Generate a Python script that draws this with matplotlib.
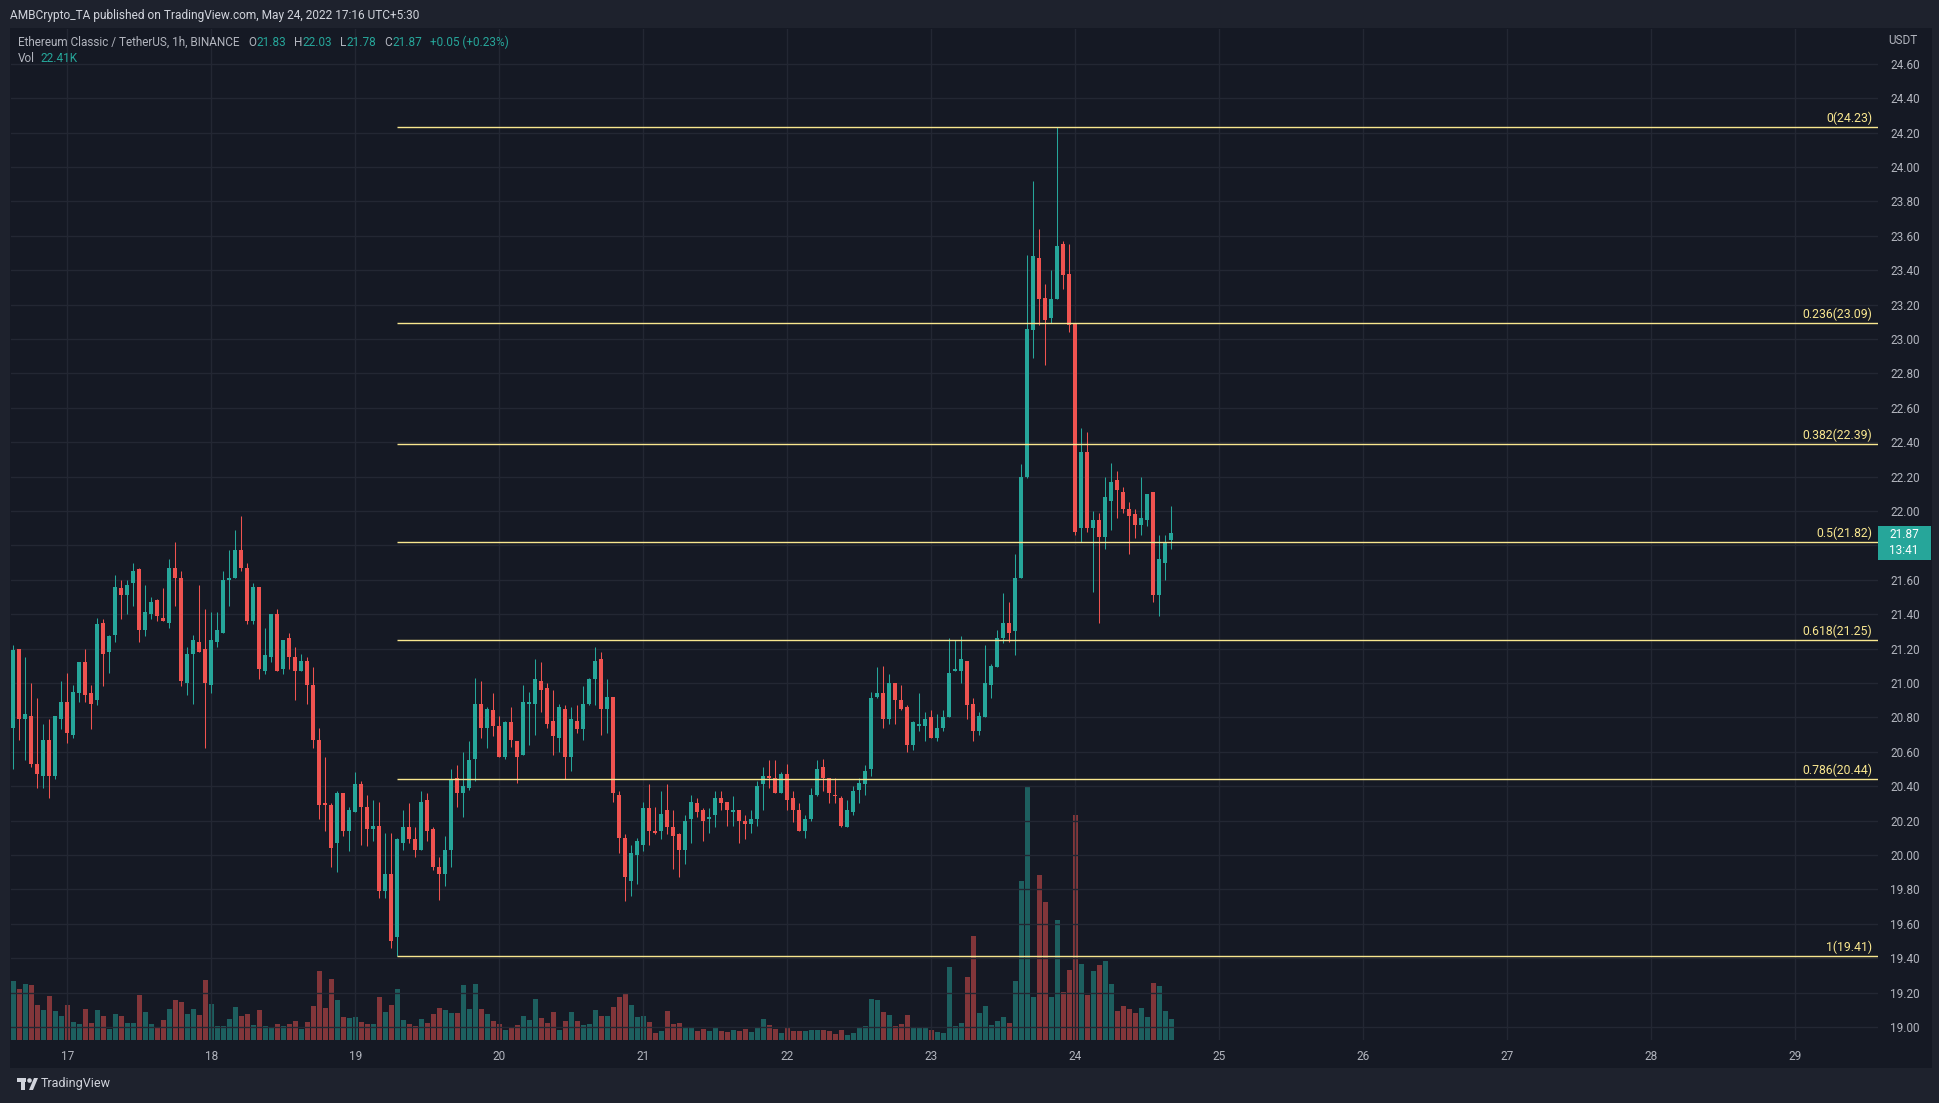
import matplotlib
matplotlib.use('Agg')
import matplotlib.pyplot as plt
from matplotlib.patches import Rectangle, Polygon, Circle
from matplotlib.transforms import Affine2D, offset_copy
import numpy as np

W, H = 1940, 1103

# ETC/USDT 1h candles, 16th 15:00 -> 24th 16:00 (UTC+5:30)
opens = [20.74, 21.20, 20.79, 20.81, 20.53, 20.46, 20.67, 20.46, 20.79, 20.89,
         20.70, 20.94, 21.12, 20.94, 20.90, 21.35, 21.18, 21.28, 21.55, 21.51,
         21.58, 21.66, 21.31, 21.40, 21.48, 21.38, 21.35, 21.67, 21.61, 21.00,
         21.17, 21.24, 21.20, 20.99, 21.24, 21.29, 21.60, 21.61, 21.77, 21.67,
         21.36, 21.56, 21.07, 21.15, 21.40, 21.08, 21.26, 21.15, 21.07, 21.13,
         20.99, 20.67, 20.30, 20.29, 20.07, 20.36, 20.14, 20.25, 20.41, 20.28,
         20.15, 20.17, 19.79, 19.89, 19.52, 20.07, 20.16, 20.09, 20.03, 20.32,
         20.15, 19.93, 19.89, 20.03, 20.45, 20.36, 20.39, 20.56, 20.88, 20.74,
         20.84, 20.75, 20.57, 20.77, 20.66, 20.58, 20.88, 20.88, 21.01, 20.97,
         20.78, 20.68, 20.85, 20.57, 20.78, 20.73, 20.88, 21.02, 21.14, 20.85,
         20.92, 20.35, 20.10, 19.85, 20.00, 20.06, 20.27, 20.14, 20.14, 20.26,
         20.16, 20.12, 20.03, 20.21, 20.30, 20.26, 20.21, 20.23, 20.33, 20.31,
         20.25, 20.26, 20.20, 20.18, 20.21, 20.41, 20.46, 20.45, 20.36, 20.47,
         20.33, 20.26, 20.14, 20.21, 20.35, 20.51, 20.45, 20.35, 20.33, 20.16,
         20.25, 20.38, 20.41, 20.50, 20.92, 20.94, 20.79, 21.00, 20.90, 20.86,
         20.64, 20.75, 20.75, 20.80, 20.68, 20.74, 20.80, 21.07, 21.07, 21.13,
         20.88, 20.72, 20.80, 20.99, 21.09, 21.26, 21.35, 21.30, 21.61, 22.20,
         23.05, 23.47, 23.24, 23.12, 23.23, 23.55, 23.38, 23.09, 21.90, 22.34,
         21.90, 21.95, 21.85, 22.06, 22.18, 22.11, 22.01, 21.98, 21.92, 21.95,
         22.11, 21.51, 21.70, 21.83]
highs = [21.22, 21.20, 21.15, 21.00, 20.91, 20.76, 20.79, 20.81, 21.01, 21.06,
         20.99, 21.12, 21.20, 20.99, 21.38, 21.37, 21.28, 21.63, 21.60, 21.60,
         21.70, 21.67, 21.57, 21.50, 21.49, 21.55, 21.72, 21.82, 21.65, 21.21,
         21.28, 21.57, 21.43, 21.41, 21.41, 21.65, 21.77, 21.89, 21.97, 21.70,
         21.58, 21.56, 21.32, 21.40, 21.43, 21.25, 21.29, 21.21, 21.17, 21.15,
         21.09, 20.74, 20.57, 20.30, 20.37, 20.36, 20.28, 20.48, 20.43, 20.35,
         20.32, 20.31, 20.13, 20.13, 20.10, 20.26, 20.30, 20.16, 20.37, 20.36,
         20.16, 19.99, 20.11, 20.50, 20.52, 20.60, 20.66, 21.03, 21.01, 20.86,
         20.94, 20.81, 20.78, 20.86, 20.66, 20.99, 20.95, 21.14, 21.12, 21.00,
         20.96, 20.88, 20.87, 20.86, 20.87, 20.98, 21.03, 21.21, 21.18, 21.02,
         20.92, 20.37, 20.12, 20.06, 20.10, 20.31, 20.41, 20.28, 20.37, 20.41,
         20.26, 20.13, 20.23, 20.35, 20.33, 20.27, 20.27, 20.37, 20.37, 20.31,
         20.34, 20.26, 20.23, 20.26, 20.43, 20.51, 20.55, 20.55, 20.48, 20.53,
         20.37, 20.30, 20.23, 20.39, 20.55, 20.56, 20.45, 20.45, 20.34, 20.32,
         20.40, 20.45, 20.52, 20.95, 21.09, 21.10, 21.05, 21.00, 20.99, 20.87,
         20.78, 20.94, 20.83, 20.84, 20.82, 20.84, 21.26, 21.25, 21.27, 21.13,
         20.91, 20.83, 21.22, 21.11, 21.31, 21.52, 21.47, 21.75, 22.27, 23.49,
         23.92, 23.64, 23.32, 23.40, 24.23, 23.57, 23.55, 23.09, 22.48, 22.46,
         22.00, 21.99, 22.20, 22.28, 22.23, 22.14, 22.05, 22.01, 22.20, 22.10,
         22.11, 21.86, 21.86, 22.03]
lows = [20.50, 20.67, 20.55, 20.51, 20.39, 20.39, 20.33, 20.44, 20.73, 20.65,
        20.68, 20.89, 20.89, 20.73, 20.87, 20.98, 21.06, 21.24, 21.37, 21.40,
        21.45, 21.24, 21.27, 21.37, 21.36, 21.36, 21.32, 21.45, 20.98, 20.93,
        20.88, 21.18, 20.62, 20.94, 21.21, 21.29, 21.45, 21.61, 21.65, 21.34,
        21.34, 21.02, 21.05, 21.12, 21.07, 21.05, 21.08, 20.90, 21.07, 20.88,
        20.62, 20.21, 20.14, 19.93, 19.90, 20.11, 20.02, 20.25, 20.06, 20.05,
        20.08, 19.75, 19.75, 19.46, 19.41, 20.03, 20.07, 19.99, 20.03, 20.08,
        19.91, 19.74, 19.82, 19.93, 20.28, 20.22, 20.38, 20.43, 20.68, 20.62,
        20.69, 20.57, 20.56, 20.63, 20.42, 20.58, 20.64, 20.70, 20.83, 20.74,
        20.58, 20.60, 20.44, 20.49, 20.71, 20.67, 20.87, 20.87, 20.70, 20.71,
        20.31, 20.01, 19.73, 19.76, 19.83, 20.02, 20.06, 20.12, 20.09, 20.12,
        19.92, 19.87, 19.95, 20.07, 20.22, 20.08, 20.13, 20.16, 20.26, 20.17,
        20.17, 20.07, 20.09, 20.13, 20.17, 20.26, 20.39, 20.36, 20.36, 20.26,
        20.19, 20.14, 20.10, 20.20, 20.34, 20.37, 20.30, 20.30, 20.16, 20.16,
        20.23, 20.30, 20.35, 20.46, 20.91, 20.74, 20.76, 20.76, 20.84, 20.60,
        20.61, 20.72, 20.66, 20.68, 20.66, 20.72, 20.80, 21.07, 21.00, 20.79,
        20.66, 20.70, 20.80, 20.91, 21.09, 21.23, 21.24, 21.16, 21.61, 22.19,
        22.89, 23.08, 22.85, 23.09, 23.23, 23.29, 23.04, 21.86, 21.82, 21.88,
        21.53, 21.35, 21.78, 21.89, 21.96, 21.99, 21.75, 21.84, 21.86, 21.91,
        21.47, 21.39, 21.60, 21.78]
closes = [21.19, 20.79, 20.82, 20.53, 20.47, 20.67, 20.46, 20.81, 20.89, 20.71,
          20.95, 21.12, 20.93, 20.88, 21.34, 21.17, 21.27, 21.56, 21.51, 21.57,
          21.65, 21.31, 21.41, 21.47, 21.39, 21.36, 21.67, 21.61, 21.01, 21.17,
          21.25, 21.18, 21.00, 21.25, 21.31, 21.60, 21.61, 21.77, 21.67, 21.36,
          21.56, 21.08, 21.16, 21.40, 21.07, 21.25, 21.15, 21.07, 21.13, 20.99,
          20.67, 20.29, 20.29, 20.04, 20.36, 20.14, 20.26, 20.41, 20.28, 20.15,
          20.17, 19.79, 19.89, 19.50, 20.09, 20.16, 20.09, 20.03, 20.31, 20.14,
          19.93, 19.89, 20.03, 20.44, 20.36, 20.40, 20.55, 20.88, 20.74, 20.85,
          20.75, 20.57, 20.77, 20.67, 20.57, 20.89, 20.89, 21.02, 20.96, 20.76,
          20.69, 20.86, 20.57, 20.79, 20.73, 20.88, 21.02, 21.13, 20.85, 20.92,
          20.36, 20.10, 19.87, 20.01, 20.08, 20.27, 20.14, 20.13, 20.24, 20.16,
          20.11, 20.03, 20.20, 20.31, 20.25, 20.20, 20.22, 20.33, 20.30, 20.26,
          20.26, 20.20, 20.18, 20.21, 20.40, 20.46, 20.45, 20.36, 20.47, 20.32,
          20.26, 20.14, 20.21, 20.35, 20.50, 20.45, 20.36, 20.34, 20.17, 20.26,
          20.37, 20.42, 20.49, 20.91, 20.94, 20.79, 21.00, 20.90, 20.85, 20.64,
          20.77, 20.76, 20.79, 20.68, 20.74, 20.80, 21.06, 21.08, 21.14, 20.87,
          20.72, 20.81, 21.00, 21.10, 21.26, 21.35, 21.29, 21.61, 22.20, 23.06,
          23.48, 23.23, 23.11, 23.23, 23.54, 23.37, 23.08, 21.88, 22.34, 21.90,
          21.95, 21.85, 22.08, 22.17, 22.12, 22.01, 21.97, 21.92, 21.96, 22.10,
          21.51, 21.72, 21.82, 21.87]
# volume in thousands
volumes = [63.9, 55.3, 60.7, 59.6, 37.9, 32.5, 47.7, 31.4, 26.0, 37.9,
           19.5, 17.4, 33.6, 18.5, 32.5, 26.0, 12.0, 28.2, 26.0, 18.5,
           18.5, 48.8, 30.4, 17.4, 13.0, 21.7, 33.6, 43.4, 41.2, 28.2,
           33.6, 27.1, 65.0, 39.0, 15.2, 15.2, 22.8, 35.8, 26.0, 28.2,
           16.3, 32.5, 15.2, 14.1, 17.4, 15.2, 17.4, 20.6, 12.0, 19.5,
           36.9, 74.8, 34.7, 66.1, 43.4, 24.9, 23.9, 24.9, 19.5, 17.4,
           17.4, 46.6, 30.4, 37.9, 55.3, 21.7, 17.4, 15.2, 22.8, 18.5,
           28.2, 34.7, 32.5, 29.3, 29.3, 59.6, 33.6, 60.7, 33.6, 28.2,
           20.6, 17.4, 10.9, 14.1, 16.3, 26.0, 21.7, 44.4, 23.9, 18.5,
           30.4, 10.9, 20.6, 30.4, 20.6, 16.3, 17.4, 32.5, 26.0, 26.0,
           35.8, 46.6, 50.9, 37.9, 24.9, 26.0, 19.5, 7.6, 9.8, 31.4,
           17.4, 18.5, 13.0, 13.0, 9.8, 12.0, 9.8, 13.0, 9.8, 8.7,
           10.9, 9.8, 12.0, 8.7, 13.0, 22.8, 16.3, 12.0, 7.6, 13.0,
           9.8, 9.8, 9.8, 10.9, 10.9, 10.9, 9.8, 6.5, 10.9, 5.4,
           7.6, 13.0, 15.2, 44.4, 43.4, 30.4, 27.1, 15.2, 17.4, 27.1,
           14.1, 14.1, 13.0, 10.9, 8.7, 7.6, 79.0, 15.2, 18.5, 68.3,
           112.7, 29.3, 36.9, 16.3, 20.6, 24.9, 18.5, 63.9, 172.0, 275.0,
           46.6, 179.0, 150.0, 46.6, 130.0, 52.0, 75.8, 244.0, 82.3, 48.8,
           74.8, 81.3, 85.5, 60.7, 31.4, 36.9, 33.6, 29.3, 34.7, 24.9,
           61.8, 58.5, 31.4, 22.41]

day_labels = ['17', '18', '19', '20', '21', '22', '23', '24', '25', '26', '27', '28', '29']
first_midnight = 9  # candle index of 17th 00:00

fib_ratios = ['0', '0.236', '0.382', '0.5', '0.618', '0.786', '1']
fib_prices = [24.23, 23.09, 22.39, 21.82, 21.25, 20.44, 19.41]
fib_start = 64  # swing low candle

price_ticks = np.round(np.arange(19.0, 24.61, 0.2), 2)
last_price = 21.87

frame = '#1e222d'
bg = '#151924'
grid_c = '#232733'
txt = '#b2b5be'
title_c = '#d1d4dc'
up = '#26a69a'
down = '#ef5350'
fib_c = '#f9e78f'
font = 'Roboto'

plt.rcParams['font.family'] = [font, 'DejaVu Sans']

fig = plt.figure(figsize=(W / 100, H / 100), dpi=100, facecolor=frame)
px = Affine2D().scale(1 / W, -1 / H).translate(0, 1) + fig.transFigure

fig.add_artist(Rectangle((10, 28), 1922, 1040, transform=px, facecolor=bg,
                         edgecolor='none', zorder=-5))

pos = [11 / W, 1 - 1040 / H, (1878 - 11) / W, (1040 - 29) / H]
axv = fig.add_axes(pos, zorder=0)
axv.set_facecolor(bg)
ax = fig.add_axes(pos, sharex=axv, zorder=1)
ax.patch.set_visible(False)

x = np.arange(len(opens))
o = np.array(opens); h = np.array(highs); l = np.array(lows); c = np.array(closes)
cols = np.where(c >= o, up, down)

# volume
axv.bar(x, volumes, width=0.78, color=cols, alpha=0.5, linewidth=0)
axv.set_ylim(0, 1095)
axv.set_yticks([])
axv.tick_params(axis='x', length=0, labelbottom=False)
for s in axv.spines.values():
    s.set_visible(False)

# candles
ax.vlines(x, l, h, colors=cols, linewidth=0.75, zorder=3)
ax.bar(x, np.maximum(np.abs(c - o), 0.006), bottom=np.minimum(o, c), width=0.74,
       color=cols, linewidth=0, zorder=4)

xmax = 310.8
ax.set_xlim(-0.38, xmax)
ax.set_ylim(18.924, 24.802)

ax.set_xticks([first_midnight + 24 * i for i in range(len(day_labels))])
ax.set_xticklabels(day_labels)
ax.yaxis.tick_right()
ax.set_yticks(price_ticks)
# the tick hidden behind the last-price tag gets no label
ax.set_yticklabels(['' if abs(v - last_price) < 0.1 else f'{v:.2f}' for v in price_ticks])
ax.tick_params(axis='x', length=0, pad=7, labelcolor=txt, labelsize=8.5)
ax.tick_params(axis='y', length=0, pad=9, labelcolor=txt, labelsize=8.5)
ax.grid(True, color=grid_c, linewidth=1.0, zorder=0)
ax.set_axisbelow(True)
for s in ax.spines.values():
    s.set_visible(False)

# fibonacci retracement
ax.hlines(fib_prices, fib_start, xmax, colors=fib_c, linewidth=1.0, zorder=5)
lab_tr = offset_copy(ax.transData, fig=fig, x=0, y=2, units='dots')
for r, p in zip(fib_ratios, fib_prices):
    ax.text(xmax - 1.0, p, f'{r}({p:.2f})', transform=lab_tr, ha='right', va='bottom',
            color=fib_c, fontsize=8.8, zorder=6)

# header and legend
fig.text(10, 15, 'AMBCrypto_TA published on TradingView.com, May 24, 2022 17:16 UTC+5:30',
         transform=px, color=title_c, fontsize=8.6, va='center', ha='left')

renderer = fig.canvas.get_renderer()


def seq_text(x0, y0, parts, size=8.5):
    xx = x0
    for s, col, gap in parts:
        t = fig.text(xx, y0, s, transform=px, color=col, fontsize=size, va='center', ha='left')
        xx += t.get_window_extent(renderer).width + gap


seq_text(18, 42, [('Ethereum Classic / TetherUS, 1h, BINANCE', txt, 9),
                  ('O', txt, 0), ('21.83', up, 8), ('H', txt, 0), ('22.03', up, 8),
                  ('L', txt, 0), ('21.78', up, 8), ('C', txt, 0), ('21.87', up, 8),
                  ('+0.05 (+0.23%)', up, 0)])
seq_text(18, 58, [('Vol', txt, 5), ('22.41K', up, 0)])

fig.text(1888, 41, 'USDT', transform=px, color=txt, fontsize=8.5, va='center', ha='left')

# last price tag
fig.add_artist(Rectangle((1878, 526), 53, 34, transform=px, facecolor=up,
                         edgecolor='none', zorder=10))
fig.text(1904, 535, f'{last_price:.2f}', transform=px, color='white', fontsize=8.5,
         va='center', ha='center', zorder=11)
fig.text(1904, 551, '13:41', transform=px, color='white', fontsize=8.5, va='center',
         ha='center', zorder=11)

# TradingView logo
fig.add_artist(Rectangle((17, 1078), 9, 4, transform=px, facecolor=title_c, edgecolor='none'))
fig.add_artist(Rectangle((21, 1078), 4, 12, transform=px, facecolor=title_c, edgecolor='none'))
fig.add_artist(Circle((29.5, 1080.5), 2.3, transform=px, facecolor=title_c, edgecolor='none'))
fig.add_artist(Polygon([(29, 1090), (34, 1078), (38, 1078), (33, 1090)], closed=True,
                       transform=px, facecolor=title_c, edgecolor='none'))
fig.text(41, 1084, 'TradingView', transform=px, color=title_c, fontsize=9,
         va='center', ha='left')

fig.savefig('out.png', dpi=100, facecolor=frame)
